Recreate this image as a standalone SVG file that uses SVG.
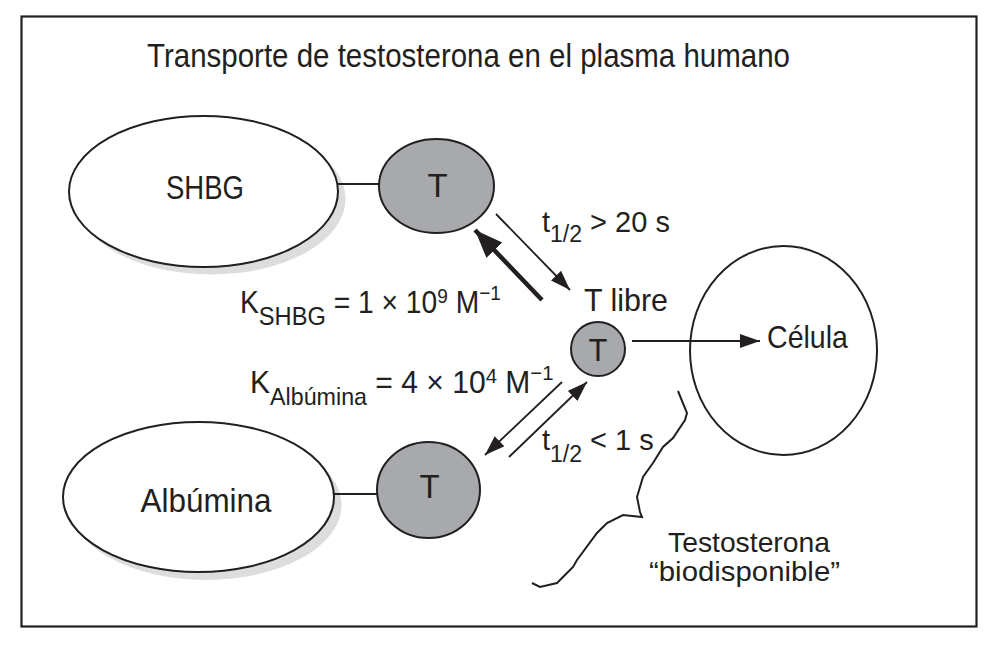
<svg xmlns="http://www.w3.org/2000/svg" width="1000" height="650" viewBox="0 0 1000 650">
<style>
text{font-family:"Liberation Sans",Arial,sans-serif;fill:#231f20}
.big{fill:#fff;stroke:#231f20;stroke-width:2}
.open{fill:none;stroke:#231f20;stroke-width:2}
.shadow{fill:#dcdddf;stroke:none}
.tcirc{fill:#a7a9ac;stroke:#231f20;stroke-width:2}
.link{stroke:#231f20;stroke-width:2;fill:none}
.arr{stroke:#231f20;stroke-width:1.8;fill:none}
</style>
<defs>
<marker id="ah" markerUnits="userSpaceOnUse" markerWidth="22" markerHeight="16" refX="20" refY="7" orient="auto">
<path d="M0,0 L20,7 L0,14 Z" fill="#231f20"/>
</marker>
<marker id="ahbig" markerUnits="userSpaceOnUse" markerWidth="30" markerHeight="24" refX="28" refY="11" orient="auto">
<path d="M0,0 L28,11 L0,22 Z" fill="#231f20"/>
</marker>
</defs>
<rect x="21.5" y="16.5" width="955" height="610" fill="#fff" stroke="#231f20" stroke-width="2.2"/>
<text x="147" y="67" font-size="33" textLength="643" lengthAdjust="spacingAndGlyphs">Transporte de testosterona en el plasma humano</text>

<g id="shbg">
<ellipse class="shadow" cx="211" cy="199" rx="134.5" ry="75.5"/>
<ellipse class="big" cx="203.5" cy="191.5" rx="134.5" ry="75.5"/>
<text x="205" y="199" font-size="33" text-anchor="middle" textLength="78" lengthAdjust="spacingAndGlyphs">SHBG</text>
</g>

<g id="t-shbg">
<ellipse class="tcirc" cx="436.5" cy="186" rx="57.5" ry="47"/>
<text x="437.5" y="197" font-size="33" text-anchor="middle">T</text>
</g>

<g id="albumina">
<ellipse class="shadow" cx="206" cy="505" rx="135.5" ry="75"/>
<ellipse class="big" cx="198.5" cy="497" rx="135.5" ry="75"/>
<text x="206" y="512" font-size="33" text-anchor="middle" textLength="131" lengthAdjust="spacingAndGlyphs">Albúmina</text>
</g>

<g id="t-alb">
<ellipse class="tcirc" cx="428.5" cy="490" rx="51.5" ry="48"/>
<text x="429.5" y="498" font-size="33" text-anchor="middle">T</text>
</g>

<g id="t-libre">
<circle class="tcirc" cx="598" cy="349" r="27"/>
<text x="598" y="361" font-size="31" text-anchor="middle">T</text>
<text x="584" y="311" font-size="32" textLength="84" lengthAdjust="spacingAndGlyphs">T libre</text>
</g>

<g id="celula">
<ellipse class="open" cx="783.5" cy="350.5" rx="93.5" ry="104.5"/>
<text x="767" y="348" font-size="32" textLength="81" lengthAdjust="spacingAndGlyphs">Célula</text>
</g>

<g id="connectors">
<line class="link" x1="338" y1="184" x2="379" y2="184"/>
<line class="link" x1="333" y1="494" x2="377" y2="494"/>
<line class="arr" x1="496" y1="214" x2="570" y2="290" marker-end="url(#ah)"/>
<line x1="542" y1="300" x2="475" y2="230" stroke="#231f20" stroke-width="4.5" marker-end="url(#ahbig)"/>
<line class="arr" x1="562" y1="382" x2="485" y2="455" marker-end="url(#ah)"/>
<line class="arr" x1="509" y1="457" x2="587" y2="382" marker-end="url(#ah)"/>
<line class="arr" x1="632" y1="341" x2="760" y2="341" marker-end="url(#ah)"/>
</g>

<g id="labels">
<text font-size="29"><tspan x="542" y="232">t</tspan><tspan font-size="23" dy="10">1/2</tspan><tspan dy="-10"> &gt; 20 s</tspan></text>
<text font-size="29"><tspan x="542" y="450">t</tspan><tspan font-size="23" dy="12">1/2</tspan><tspan dy="-12"> &lt; 1 s</tspan></text>
<text font-size="31" transform="translate(240,0) scale(0.91,1) translate(-240,0)"><tspan x="240" y="313">K</tspan><tspan font-size="26" dy="12">SHBG</tspan><tspan dy="-12"> = 1 × 10</tspan><tspan font-size="21" dy="-10">9</tspan><tspan dy="10"> M</tspan><tspan font-size="21" dy="-13">−1</tspan></text>
<text font-size="31" transform="translate(250,0) scale(0.97,1) translate(-250,0)"><tspan x="250" y="393">K</tspan><tspan font-size="24" dy="12">Albúmina</tspan><tspan dy="-12"> = 4 × 10</tspan><tspan font-size="21" dy="-10">4</tspan><tspan dy="10"> M</tspan><tspan font-size="21" dy="-13">−1</tspan></text>
</g>

<g id="biodisponible">
<path class="link" stroke-width="1.8" d="M678,391 L687,413 L685,420 L673,438 L663,447 L653,463 L643,477 L637,497 L640,512 L642,517 L623,515 L607,523 L597,533 L577,560 L573,567 L557,583 L540,587 L532,583"/>
<text x="749" y="552" font-size="28" text-anchor="middle" textLength="162" lengthAdjust="spacingAndGlyphs">Testosterona</text>
<text x="744.5" y="581" font-size="28" text-anchor="middle" textLength="191" lengthAdjust="spacingAndGlyphs">“biodisponible”</text>
</g>
</svg>
